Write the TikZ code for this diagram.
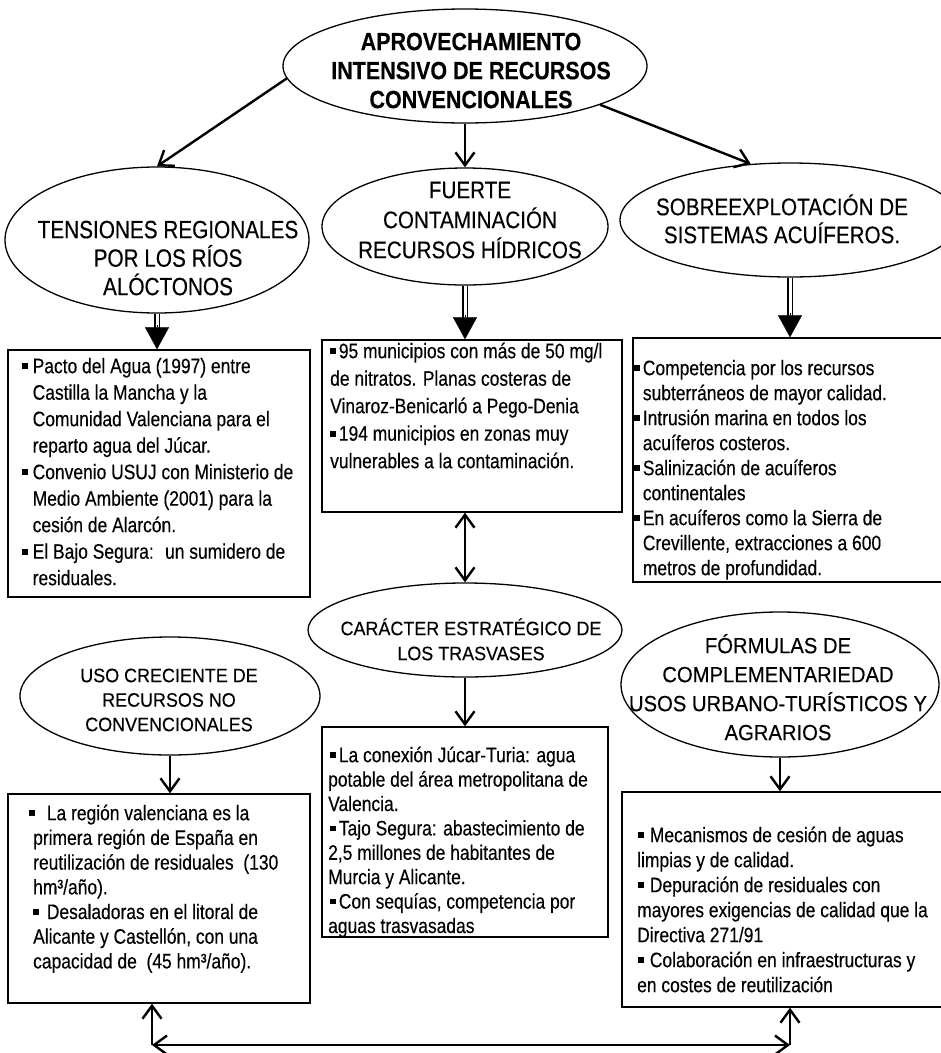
\documentclass[tikz,border=0pt]{standalone}
\usepackage{fontspec}
\setmainfont{Liberation Sans}
\newfontfamily\nA{Liberation Sans}[FakeStretch=0.83,FakeBold=0.3]
\newfontfamily\nB{Liberation Sans}[FakeStretch=0.86,FakeBold=0.3]
\newfontfamily\nC{Liberation Sans}[FakeStretch=0.92,FakeBold=0.3]
\usetikzlibrary{shapes.geometric,arrows.meta,calc}
\newcommand\bul{\rule[0.2em]{0.27em}{0.27em}}
\newcommand\st[1]{\rule{0pt}{#1pt}}
\begin{document}
\begin{tikzpicture}[x=1pt,y=-1pt,
  ell/.style={draw, ellipse, line width=1.3pt, inner sep=0pt},
  bx/.style={draw, rectangle, line width=1.4pt, inner sep=0pt},
  tx/.style={inner sep=0pt, align=left, anchor=north west},
  et/.style={inner sep=0pt, align=center, anchor=north},
  arr/.style={line width=2.4pt, -{Straight Barb[length=13pt,width=19pt]}},
  darr/.style={line width=2.4pt, {Straight Barb[length=13pt,width=19pt]}-{Straight Barb[length=13pt,width=19pt]}},
  dshaft/.style={line width=1.4pt, double=white, double distance=3pt, shorten >=16pt},
  dtip/.style={line width=0.2pt, -{Triangle[length=22pt,width=24pt]}}
]
\useasboundingbox (0,0) rectangle (941,1053);

% ellipses
\node[ell, minimum width=364pt, minimum height=114pt] (top) at (465,66) {};
\node[ell, minimum width=304pt, minimum height=146pt] (tens) at (157,240) {};
\node[ell, minimum width=286pt, minimum height=117pt] (fuer) at (465,226.5) {};
\node[ell, minimum width=340pt, minimum height=114pt] (sobre) at (790,220) {};
\node[ell, minimum width=314pt, minimum height=94pt] (car) at (465,630) {};
\node[ell, minimum width=300pt, minimum height=118pt] (uso) at (170,696) {};
\node[ell, minimum width=318pt, minimum height=145pt] (form) at (780,684.5) {};

% ellipse texts
\node[et, font={\nB\bfseries\fontsize{25}{29}\selectfont}] (topt) at (471,26)
  {\st{24}APROVECHAMIENTO\\INTENSIVO DE RECURSOS\\CONVENCIONALES};
\node[et, font={\nA\fontsize{25}{28.5}\selectfont}] (tenst) at (168,214)
  {\st{24}TENSIONES REGIONALES\\POR LOS RÍOS\\ALÓCTONOS};
\node[et, font={\nB\fontsize{24}{30}\selectfont}] (fuert) at (470,175)
  {\st{23}FUERTE\\CONTAMINACIÓN\\RECURSOS HÍDRICOS};
\node[et, font={\nB\fontsize{24}{28}\selectfont}] (sobret) at (782,192)
  {\st{23}SOBREEXPLOTACIÓN DE\\SISTEMAS ACUÍFEROS.};
\node[et, font={\nC\fontsize{19.5}{25}\selectfont}] (cart) at (471,616)
  {\st{19}CARÁCTER ESTRATÉGICO DE\\LOS TRASVASES};
\node[et, font={\nC\fontsize{19.5}{24.5}\selectfont}] (usot) at (169,663)
  {\st{19}USO CRECIENTE DE\\RECURSOS NO\\CONVENCIONALES};
\node[et, font={\nC\fontsize{22}{29}\selectfont}] (formt) at (778,632)
  {\st{21}FÓRMULAS DE\\COMPLEMENTARIEDAD\\USOS URBANO-TURÍSTICOS Y\\AGRARIOS};

% boxes
\node[bx, minimum width=302pt, minimum height=247pt] (lb1) at (159,473.5) {};
\node[bx, minimum width=300pt, minimum height=172pt] (mb1) at (472,426) {};
\node[bx, minimum width=312pt, minimum height=244pt] (rb1) at (789,460) {};
\node[bx, minimum width=286pt, minimum height=210pt] (mb2) at (465,832) {};
\node[bx, minimum width=302pt, minimum height=209pt] (lb2) at (159,898.5) {};
\node[bx, minimum width=323pt, minimum height=215pt] (rb2) at (783.5,899.5) {};

% box texts
\node[tx, font={\nA\fontsize{21}{26.5}\selectfont}] (lb1t) at (22,353)
  {\st{20}\bul\ Pacto del Agua (1997) entre\\
   \hphantom{\bul\ }Castilla la Mancha y la\\
   \hphantom{\bul\ }Comunidad Valenciana para el\\
   \hphantom{\bul\ }reparto agua del Júcar.\\
   \bul\ Convenio USUJ con Ministerio de\\
   \hphantom{\bul\ }Medio Ambiente (2001) para la\\
   \hphantom{\bul\ }cesión de Alarcón.\\
   \bul\ El Bajo Segura:~ un sumidero de\\
   \hphantom{\bul\ }residuales.};
\node[tx, font={\nA\fontsize{21}{27.5}\selectfont}] (mb1t) at (330,338)
  {\st{20}\bul\hspace{3pt}95 municipios con más de 50 mg/l\\
   de nitratos. Planas costeras de\\
   Vinaroz-Benicarló a Pego-Denia\\
   \bul\hspace{3pt}194 municipios en zonas muy\\
   vulnerables a la contaminación.};
\node[tx, font={\nA\fontsize{21}{25}\selectfont}] (rb1t) at (634,355)
  {\st{20}\bul\hspace{3pt}Competencia por los recursos\\
   \hphantom{\bul\hspace{3pt}}subterráneos de mayor calidad.\\
   \bul\hspace{3pt}Intrusión marina en todos los\\
   \hphantom{\bul\hspace{3pt}}acuíferos costeros.\\
   \bul\hspace{3pt}Salinización de acuíferos\\
   \hphantom{\bul\hspace{3pt}}continentales\\
   \bul\hspace{3pt}En acuíferos como la Sierra de\\
   \hphantom{\bul\hspace{3pt}}Crevillente, extracciones a 600\\
   \hphantom{\bul\hspace{3pt}}metros de profundidad.};
\node[tx, font={\nA\fontsize{21}{24.4}\selectfont}] (mb2t) at (328,742)
  {\st{20}\hspace{2pt}\bul\hspace{3pt}La conexión Júcar-Turia: agua\\
   potable del área metropolitana de\\
   Valencia.\\
   \hspace{2pt}\bul\hspace{3pt}Tajo Segura: abastecimiento de\\
   2,5 millones de habitantes de\\
   Murcia y Alicante.\\
   \hspace{2pt}\bul\hspace{3pt}Con sequías, competencia por\\
   aguas trasvasadas};
\node[tx, font={\nA\fontsize{21}{24.7}\selectfont}] (lb2t) at (29,800)
  {\st{20}\bul\hspace{12pt}La región valenciana es la\\
   \hspace{4pt}primera región de España en\\
   \hspace{4pt}reutilización de residuales~ (130\\
   \hspace{4pt}hm³/año).\\
   \hspace{4pt}\bul\hspace{8pt}Desaladoras en el litoral de\\
   \hspace{4pt}Alicante y Castellón, con una\\
   \hspace{4pt}capacidad de~ (45 hm³/año).};
\node[tx, font={\nA\fontsize{21}{25}\selectfont}] (rb2t) at (637,822)
  {\st{20}\hspace{1pt}\bul\hspace{6pt}Mecanismos de cesión de aguas\\
   limpias y de calidad.\\
   \hspace{1pt}\bul\hspace{6pt}Depuración de residuales con\\
   mayores exigencias de calidad que la\\
   Directiva 271/91\\
   \hspace{1pt}\bul\hspace{6pt}Colaboración en infraestructuras y\\
   en costes de reutilización};

% arrows from top ellipse
\draw[arr] (top.184) -- (tens.north);
\draw[arr] (top.south) -- (fuer.north);
\draw[arr] (top.-16) -- (sobre.125);

% double (hollow) arrows
\coordinate (d1) at (tens.south |- lb1.north);
\coordinate (d2) at (fuer.south |- mb1.north);
\coordinate (d3) at (sobre.south |- rb1.north);
\draw[dshaft] (tens.south) -- (d1);
\draw[dtip] ($(d1)+(0,-24)$) -- (d1);
\draw[dshaft] (fuer.south) -- (d2);
\draw[dtip] ($(d2)+(0,-24)$) -- (d2);
\draw[dshaft] (sobre.south) -- (d3);
\draw[dtip] ($(d3)+(0,-24)$) -- (d3);

% middle double-headed
\coordinate (m1) at (car.north |- mb1.south);
\draw[darr] (m1) -- (car.north);

% lower arrows
\draw[arr] (car.south) -- (car.south |- mb2.north);
\draw[arr] (uso.south) -- (uso.south |- lb2.north);
\draw[arr] (form.south) -- (form.south |- rb2.north);

% bottom connector
\coordinate (cL) at (152,1045);
\coordinate (cR) at (790,1045);
\draw[arr] (cL) -- (cL |- lb2.south);
\draw[arr] (cR) -- (cR |- rb2.south);
\draw[darr] (cL) -- (cR);
\end{tikzpicture}
\end{document}
